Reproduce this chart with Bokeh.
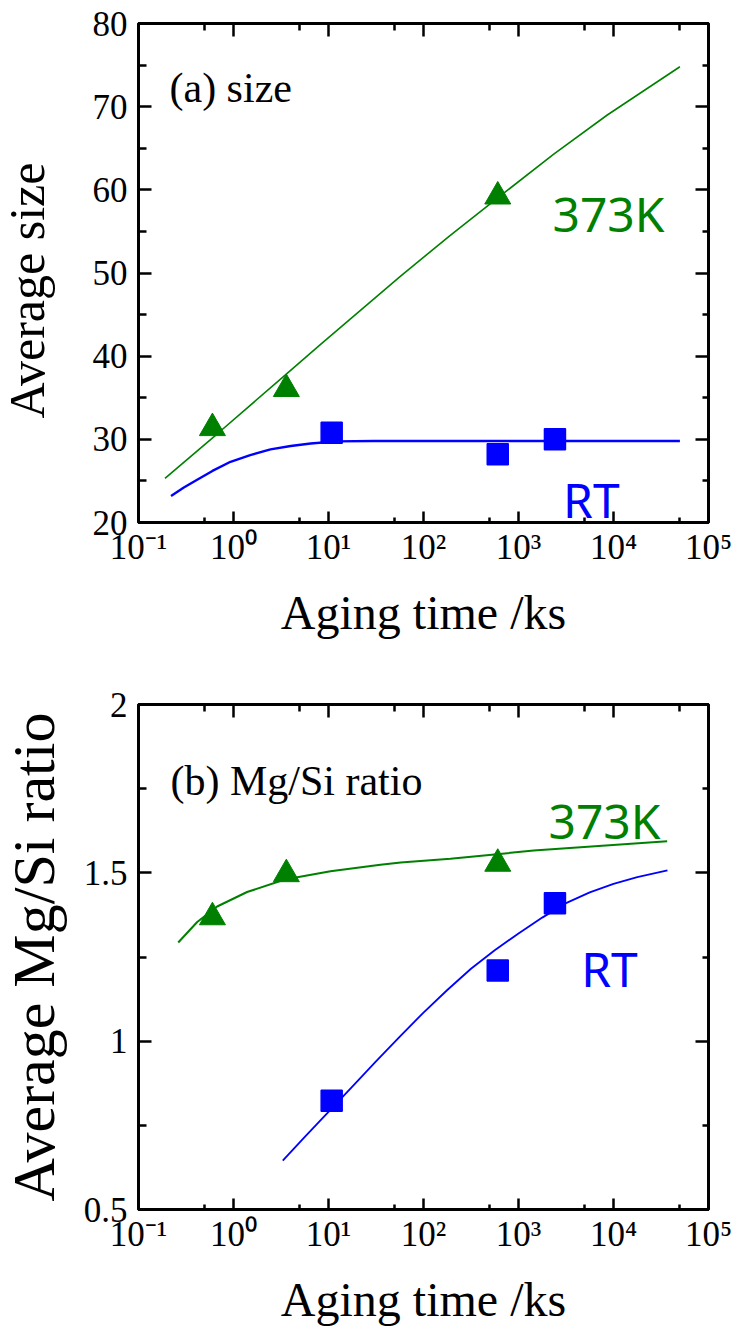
import math
from bokeh.plotting import figure
from bokeh.layouts import column, row
from bokeh.models import LogAxis, LinearAxis, FixedTicker, CustomJSTickFormatter, Range1d
from bokeh.embed import file_html
from bokeh.resources import INLINE
from bokeh.core.properties import value

# ---- measured points (aging time in ks) ----
t_373k = [0.6, 3.6, 604.8]
t_rt = [10.8, 604.8, 2419.2]

size_373k = [31.35, 36.05, 59.2]
size_rt = [30.78, 28.22, 30.02]

ratio_373k = [1.368, 1.496, 1.527]
ratio_rt = [0.823, 1.21, 1.41]

# ---- trend curves ----
fit_size_373k_t = [0.19, 0.73, 3.4, 8.2, 57, 190, 600, 2350, 8600, 50000]
fit_size_373k_v = [25.3, 31.0, 37.6, 41.4, 49.6, 54.5, 59.0, 64.3, 69.0, 74.8]

fit_size_rt_t = [0.22, 0.3, 0.41, 0.6, 0.93, 1.5, 2.45, 4.0, 6.5, 12, 30, 50000]
fit_size_rt_v = [23.2, 24.2, 25.1, 26.2, 27.3, 28.1, 28.8, 29.2, 29.5, 29.75, 29.8, 29.8]

fit_ratio_373k_t = [0.262, 0.415, 0.673, 1.39, 3.47, 10.5, 35.2, 57.5, 192, 1445, 36700]
fit_ratio_373k_v = [1.293, 1.354, 1.400, 1.443, 1.480, 1.505, 1.524, 1.531, 1.542, 1.566, 1.594]

fit_ratio_rt_t = [3.3, 5.6, 10, 17.8, 31.6, 56, 100, 178, 316, 562, 1000, 1778,
                  3162, 5623, 10000, 17783, 37000]
fit_ratio_rt_v = [0.645, 0.715, 0.79, 0.865, 0.94, 1.013, 1.085, 1.152, 1.215, 1.27,
                  1.32, 1.367, 1.41, 1.442, 1.467, 1.487, 1.507]

# ---- axis ticks ----
x_major = [0.1, 1, 10, 100, 1000, 10000, 100000]
x_minor = [0.5, 5, 50, 500, 5000, 50000]
size_major = [20, 30, 40, 50, 60, 70, 80]
size_minor = [25, 35, 45, 55, 65, 75]
ratio_major = [0.5, 1.0, 1.5, 2.0]
ratio_minor = [0.75, 1.25, 1.75]

GREEN = "#008000"
BLUE = "#0000ff"
SERIF = "Liberation Serif"
SANS = "Noto Sans"

pow_fmt = CustomJSTickFormatter(code="""
const sup = {'-1': '\u207b\u00b9', '0': '\u2070', '1': '\u00b9', '2': '\u00b2',
             '3': '\u00b3', '4': '\u2074', '5': '\u2075'};
const e = Math.round(Math.log10(tick));
return '10' + sup[String(e)];
""")
num_fmt = CustomJSTickFormatter(code="return String(tick);")
blank_fmt = CustomJSTickFormatter(code="return '';")

TITLE_W = 74          # width of the strip holding the vertical titles
FRAME_LEFT = 138      # page x of the plot frame's left edge
PAGE_W = 740


def style_axis(ax, major_len, minor_len):
    ax.major_tick_in = major_len
    ax.major_tick_out = 0
    ax.minor_tick_in = minor_len
    ax.minor_tick_out = 0
    ax.axis_line_width = 2.8
    ax.major_tick_line_width = 2.5
    ax.minor_tick_line_width = 2.5
    ax.axis_line_color = "black"
    ax.major_tick_line_color = "black"
    ax.minor_tick_line_color = "black"
    ax.major_label_text_font = SERIF
    ax.major_label_text_font_size = "35px"
    ax.major_label_text_color = "black"
    ax.axis_label_text_font = SERIF
    ax.axis_label_text_font_style = "normal"
    ax.axis_label_text_color = "black"


def title_strip(height, border_top, border_bottom, text, font_size, anchor_x, center_from_top):
    """Narrow blank figure carrying a vertical axis title.

    Inside a row its frame lines up with the neighbouring plot frame,
    so the y range spans that frame height in pixels (0 = frame bottom).
    """
    frame_h = height - border_top - border_bottom
    s = figure(width=TITLE_W, height=height, x_range=Range1d(0, TITLE_W),
               y_range=Range1d(0, frame_h), output_backend="svg",
               toolbar_location=None, x_axis_location=None, y_axis_location=None,
               min_border=0)
    s.grid.visible = False
    s.outline_line_color = None
    s.background_fill_color = "white"
    s.border_fill_color = "white"
    y = (height - border_bottom) - center_from_top
    s.text(x=[anchor_x], y=[y], text=[text], angle=math.pi / 2,
           text_font=value(SERIF), text_font_size=value(font_size),
           text_color="black", text_align="center", text_baseline="alphabetic")
    return s


def make_panel(height, border_top, border_bottom, y_lo, y_hi, y_major, y_minor):
    p = figure(width=PAGE_W - TITLE_W, height=height, x_axis_type="log",
               x_range=Range1d(0.1, 1e5), y_range=Range1d(y_lo, y_hi),
               output_backend="svg", toolbar_location=None,
               min_border_left=FRAME_LEFT - TITLE_W, min_border_right=32,
               min_border_top=border_top, min_border_bottom=border_bottom)
    p.grid.visible = False
    p.outline_line_color = "black"
    p.outline_line_width = 2.8
    p.background_fill_color = "white"
    p.border_fill_color = "white"

    xa = p.xaxis[0]
    xa.ticker = FixedTicker(ticks=x_major, minor_ticks=x_minor)
    xa.formatter = pow_fmt
    style_axis(xa, 11, 5)
    xa.major_label_standoff = 5
    xa.axis_label = "Aging time /ks"
    xa.axis_label_text_font_size = "48px"
    xa.axis_label_standoff = 16

    ya = p.yaxis[0]
    ya.ticker = FixedTicker(ticks=y_major, minor_ticks=y_minor)
    ya.formatter = num_fmt
    style_axis(ya, 13, 8)
    ya.major_label_standoff = 11

    top = LogAxis(ticker=FixedTicker(ticks=x_major, minor_ticks=x_minor), formatter=blank_fmt)
    style_axis(top, 13, 7)
    p.add_layout(top, "above")

    right = LinearAxis(ticker=FixedTicker(ticks=y_major, minor_ticks=y_minor), formatter=blank_fmt)
    style_axis(right, 13, 6)
    p.add_layout(right, "right")
    return p


# ---- (a) average size ----
HA, TA, BA = 660, 23, 138
pa = make_panel(HA, TA, BA, 20, 80, size_major, size_minor)
pa.line(fit_size_373k_t, fit_size_373k_v, line_color=GREEN, line_width=1.6)
pa.line(fit_size_rt_t, fit_size_rt_v, line_color=BLUE, line_width=2.4)
pa.scatter(t_373k, size_373k, marker="triangle", size=26, fill_color=GREEN, line_color=GREEN)
pa.scatter(t_rt, size_rt, marker="square", size=21, fill_color=BLUE, line_color=BLUE, line_width=1.5)
pa.text(x=[0.212], y=[72.3], text=["(a) size"], text_font=value(SERIF),
        text_font_size=value("42px"), text_color="black",
        text_align="left", text_baseline="alphabetic")
pa.text(x=[8850, 5840], y=[57.1, 22.77], text=["373K", "RT"], text_font=value(SANS),
        text_font_size=value("48px"), text_color=[GREEN, BLUE],
        text_align="center", text_baseline="alphabetic")
sa = title_strip(HA, TA, BA, "Average size", "50px", 26, 290)

# ---- (b) average Mg/Si ratio ----
HB, TB, BB = 673, 44, 124
pb = make_panel(HB, TB, BB, 0.5, 2.0, ratio_major, ratio_minor)
pb.line(fit_ratio_373k_t, fit_ratio_373k_v, line_color=GREEN, line_width=2.0)
pb.line(fit_ratio_rt_t, fit_ratio_rt_v, line_color=BLUE, line_width=1.8)
pb.scatter(t_373k, ratio_373k, marker="triangle", size=26, fill_color=GREEN, line_color=GREEN)
pb.scatter(t_rt, ratio_rt, marker="square", size=21, fill_color=BLUE, line_color=BLUE, line_width=1.5)
pb.text(x=[0.217], y=[1.774], text=["(b) Mg/Si ratio"], text_font=value(SERIF),
        text_font_size=value("42px"), text_color="black",
        text_align="left", text_baseline="alphabetic")
pb.text(x=[8040, 9080], y=[1.655, 1.2155], text=["373K", "RT"], text_font=value(SANS),
        text_font_size=value("48px"), text_color=[GREEN, BLUE],
        text_align="center", text_baseline="alphabetic")
sb = title_strip(HB, TB, BB, "Average Mg/Si ratio", "60px", 33, 296.5)

layout = column(row(sa, pa, spacing=0), row(sb, pb, spacing=0), spacing=0)
open("out.html", "w").write(file_html(layout, INLINE))
